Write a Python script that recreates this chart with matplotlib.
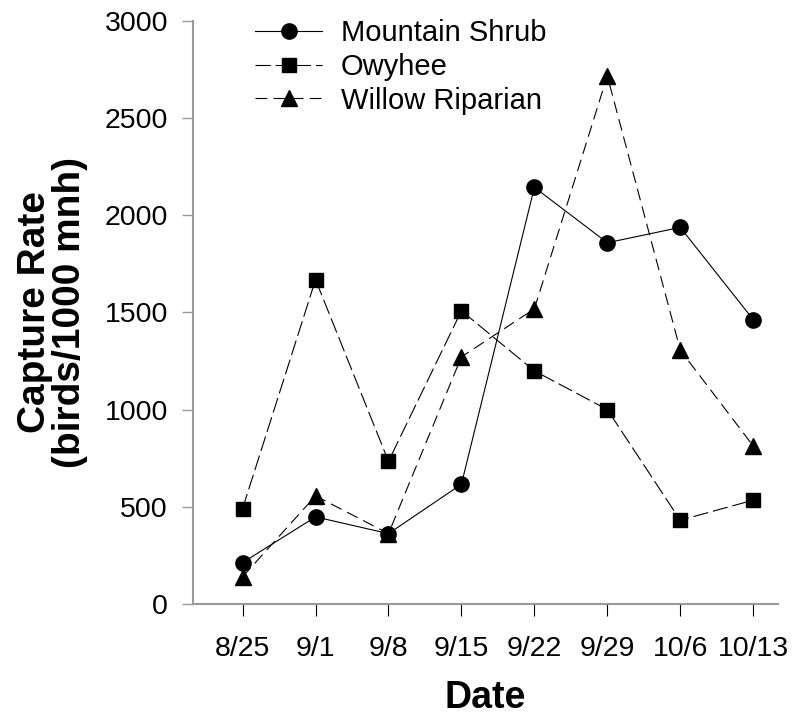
import matplotlib.pyplot as plt

plt.rcParams['font.family'] = ['Liberation Sans', 'DejaVu Sans']
plt.rcParams['lines.scale_dashes'] = False

dates = ['8/25', '9/1', '9/8', '9/15', '9/22', '9/29', '10/6', '10/13']
mountain_shrub = [213, 448, 362, 616, 2143, 1858, 1937, 1463]
owyhee = [491, 1668, 734, 1508, 1199, 1000, 431, 534]
willow_riparian = [140, 556, 362, 1271, 1518, 2716, 1306, 813]

x = list(range(len(dates)))

fig = plt.figure(figsize=(7.92, 7.18), dpi=100)
ax = fig.add_axes([193 / 792, 114 / 718, 585 / 792, 583.3 / 718])

ax.plot(x, mountain_shrub, color='black', linewidth=0.8, linestyle='-',
        marker='o', markersize=11, label='Mountain Shrub')
ax.plot(x, owyhee, color='black', linewidth=0.8, linestyle=(0, (11, 3.5)),
        marker='s', markersize=10, label='Owyhee')
ax.plot(x, willow_riparian, color='black', linewidth=0.8, linestyle=(0, (8.5, 4.5)),
        marker='^', markersize=11, label='Willow Riparian')

ax.set_xlim(-0.68, 7.34)
ax.set_ylim(0, 3000)
ax.set_xticks(x)
ax.set_xticklabels(dates)
ax.set_yticks([0, 500, 1000, 1500, 2000, 2500, 3000])

for side in ['top', 'right']:
    ax.spines[side].set_visible(False)
for side in ['left', 'bottom']:
    ax.spines[side].set_color('#999999')
    ax.spines[side].set_linewidth(1.5)

ax.tick_params(axis='x', direction='out', length=8.5, width=0.8, color='black',
               labelsize=20.5, pad=14.5)
ax.tick_params(axis='y', direction='out', length=8, width=1.0, color='#999999',
               labelsize=20.5, pad=10)

ax.set_xlabel('Date', fontsize=27, fontweight='bold', labelpad=13)
ax.set_ylabel('Capture Rate\n(birds/1000 mnh)', fontsize=28, fontweight='bold',
              labelpad=12, linespacing=0.95)

ax.legend(loc='upper left', bbox_to_anchor=(255 / 792, 1 - 19 / 718),
          bbox_transform=fig.transFigure, frameon=False, fontsize=21,
          handlelength=2.3, handletextpad=0.65, borderpad=0, borderaxespad=0,
          labelspacing=0.2)

fig.savefig('out.png', dpi=100)
